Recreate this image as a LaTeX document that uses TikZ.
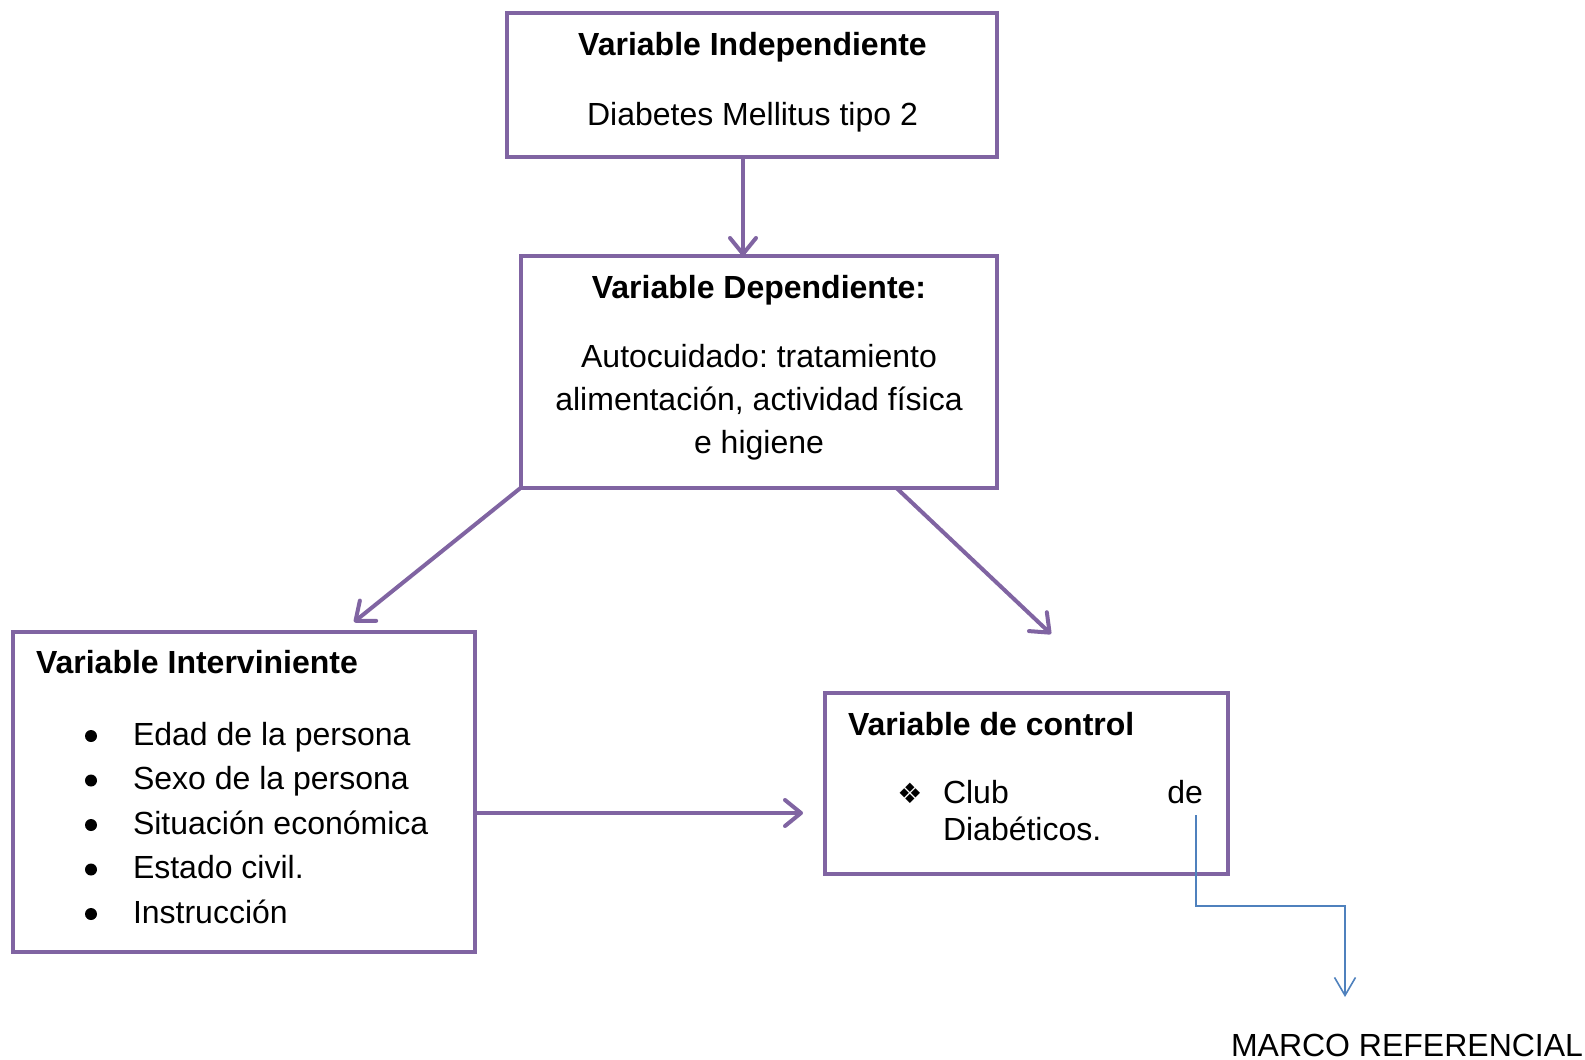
\documentclass[tikz,border=0pt]{standalone}
\usepackage{fontspec}
\setmainfont{Liberation Sans}
\newfontfamily\symfont{DejaVu Sans}
\frenchspacing
\usetikzlibrary{arrows.meta}
\definecolor{varpurple}{RGB}{128,100,162}
\definecolor{refblue}{RGB}{79,129,189}
\tikzset{
  varbox/.style={draw=varpurple, line width=2pt, inner sep=0pt, outer sep=0pt},
  vararrow/.style={draw=varpurple, line width=2pt, -{Straight Barb[length=8pt,width=13pt,round]}},
  refarrow/.style={draw=refblue, line width=0.8pt, -{Straight Barb[length=9pt,width=10.5pt]}},
  txt/.style={inner sep=0pt, outer sep=0pt, font=\fontsize{16}{21.5}\selectfont},
  txtb/.style={txt, font=\fontsize{16}{21.5}\selectfont\bfseries},
  dot/.style={circle, fill=black, inner sep=0pt, minimum size=6pt},
}

\begin{document}
\begin{tikzpicture}[x=0.5pt,y=-0.5pt]
    \useasboundingbox (0,0) rectangle (1585,1060);

    %Shape: Rectangle [Variable Independiente]
    \node[varbox, minimum width=245pt, minimum height=72pt] (indep) at (752,85) {};
    %Shape: Rectangle [Variable Dependiente]
    \node[varbox, minimum width=238pt, minimum height=116pt] (dep) at (758.5,372) {};
    %Shape: Rectangle [Variable Interviniente]
    \node[varbox, minimum width=231pt, minimum height=160pt] (intv) at (244,792) {};
    %Shape: Rectangle [Variable de control]
    \node[varbox, minimum width=201.5pt, minimum height=90.5pt] (ctl) at (1026.5,783.5) {};

    % Text Node
    \node[txtb, anchor=base] (indep-title) at (752.5,55) {Variable Independiente};
    % Text Node
    \node[txt, anchor=base] (indep-text) at (752.5,125) {Diabetes Mellitus tipo 2};

    % Text Node
    \node[txtb, anchor=base] (dep-title) at (759,298) {Variable Dependiente:};
    % Text Node
    \node[txt, anchor=base] (dep-line1) at (759,367) {Autocuidado: tratamiento};
    \node[txt, anchor=base] (dep-line2) at (759,410) {alimentación, actividad física};
    \node[txt, anchor=base] (dep-line3) at (759,453) {e higiene};

    % Text Node
    \node[txtb, anchor=base west] (intv-title) at (36,673) {Variable Interviniente};
    % Text Node
    \foreach \txt [count=\i from 0] in {Edad de la persona, Sexo de la persona, Situación económica, Estado civil., Instrucción}{
      \node[dot] (intv-dot\i) at (91,{736+44.5*\i}) {};
      \node[txt, anchor=base west] (intv-item\i) at (133,{745+44.5*\i}) {\txt};
    }

    % Text Node
    \node[txtb, anchor=base west] (ctl-title) at (848,735) {Variable de control};
    % Text Node
    \node[txt, font=\symfont\fontsize{14}{16}\selectfont] (ctl-sym) at (910,793) {❖};
    \node[txt, anchor=base west] (ctl-club) at (943,803) {Club};
    \node[txt, anchor=base east] (ctl-de) at (1203,803) {de};
    \node[txt, anchor=base west] (ctl-diab) at (943,840) {Diabéticos.};

    % Text Node
    \node[txt, anchor=base west, text depth=0pt] (marco) at (1231,1056) {MARCO REFERENCIAL};

    %Straight Lines
    \coordinate (dep-x) at (743,0);
    \draw[vararrow] (dep-x |- indep.south) -- (dep-x |- dep.north);
    \coordinate (intv-tip) at (354,622);
    \draw[vararrow] (dep.south west) -- (intv-tip);
    \coordinate (ctl-tip) at (1051,634);
    \draw[vararrow] ([xshift=69pt]dep.south) -- (ctl-tip);
    \coordinate (ctl-in) at (803,813);
    \draw[vararrow] (intv.east |- ctl-in) -- (ctl-in);

    %Connector
    \coordinate (ref-start) at (1196,815);
    \coordinate (ref-tip) at (1345,997);
    \draw[refarrow] (ref-start) -- ++(0,91) -| (ref-tip);

\end{tikzpicture}
\end{document}
